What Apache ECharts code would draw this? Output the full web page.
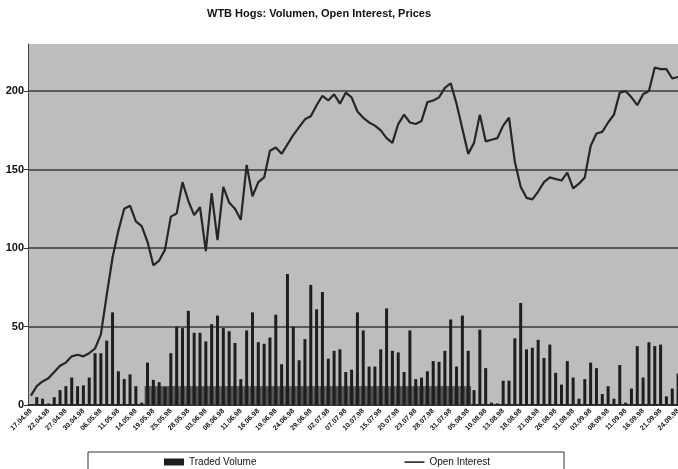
<!DOCTYPE html>
<html>
<head>
<meta charset="utf-8">
<script src="https://cdn.jsdelivr.net/npm/echarts@6/dist/echarts.min.js"></script>
<style>
  html, body { margin: 0; padding: 0; background: #fff; }
  #chart { width: 678px; height: 469px; }
</style>
</head>
<body>
<div id="chart"></div>
<script>
// trading days, every 3rd one is labelled
const dates = [
  '17.04.98','20.04.98','21.04.98','22.04.98','23.04.98','24.04.98','27.04.98','28.04.98','29.04.98','30.04.98',
  '04.05.98','05.05.98','06.05.98','07.05.98','08.05.98','11.05.98','12.05.98','13.05.98','14.05.98','15.05.98',
  '18.05.98','19.05.98','20.05.98','22.05.98','25.05.98','26.05.98','27.05.98','28.05.98','29.05.98','02.06.98',
  '03.06.98','04.06.98','05.06.98','08.06.98','09.06.98','10.06.98','11.06.98','12.06.98','15.06.98','16.06.98',
  '17.06.98','18.06.98','19.06.98','22.06.98','23.06.98','24.06.98','25.06.98','26.06.98','29.06.98','30.06.98',
  '01.07.98','02.07.98','03.07.98','06.07.98','07.07.98','08.07.98','09.07.98','10.07.98','13.07.98','14.07.98',
  '15.07.98','16.07.98','17.07.98','20.07.98','21.07.98','22.07.98','23.07.98','24.07.98','27.07.98','28.07.98',
  '29.07.98','30.07.98','31.07.98','03.08.98','04.08.98','05.08.98','06.08.98','07.08.98','10.08.98','11.08.98',
  '12.08.98','13.08.98','14.08.98','17.08.98','18.08.98','19.08.98','20.08.98','21.08.98','24.08.98','25.08.98',
  '26.08.98','27.08.98','28.08.98','31.08.98','01.09.98','02.09.98','03.09.98','04.09.98','07.09.98','08.09.98',
  '09.09.98','10.09.98','11.09.98','14.09.98','15.09.98','16.09.98','17.09.98','18.09.98','21.09.98','22.09.98',
  '23.09.98','24.09.98'
]

const tradedVolume = [
  0, 5, 4, 1, 5, 9.5, 12, 17.5, 12, 12.5,
  17.5, 33, 33, 41, 59, 21.5, 16.5, 19.5, 12, 1.5,
  27, 16, 14.5, 11.5, 33, 50, 49, 60, 46, 46,
  40.5, 51.5, 57, 49, 47, 39.5, 16.5, 47.5, 59, 40,
  39, 43, 57.5, 26, 83.5, 50, 28.5, 42, 76.5, 61,
  72, 29.5, 34.5, 35.5, 21, 22.5, 59, 47.5, 24.5, 24.5,
  35.5, 61.5, 34.5, 33.5, 21, 47.5, 16.5, 17.5, 21.5, 28,
  27.5, 34.5, 54.5, 24.5, 57, 34.5, 9.5, 48, 23.5, 1.5,
  1, 15.5, 15.5, 42.5, 65, 35.5, 36.5, 41.5, 30, 38.5,
  20.5, 13, 28, 17.5, 4, 16.5, 27, 23.5, 7, 12,
  4, 25.5, 1.5, 10.5, 37.5, 17.5, 40, 37.5, 38.5, 5.5,
  10.5, 20
]

const openInterest = [
  6, 12, 15, 17, 21, 25, 27, 31, 32, 31,
  33, 36, 45, 70, 94, 111, 125, 127, 117, 114,
  104, 89, 92, 99, 120, 122, 142, 130, 121, 126,
  98, 135, 105, 139, 129, 125, 118, 153, 133, 142,
  145, 162, 164, 160, 166, 172, 177, 182, 184, 191,
  197, 194, 198, 192, 199, 196, 187, 183, 180, 178,
  175, 170, 167, 179, 185, 180, 179, 181, 193, 194,
  196, 202, 205, 192, 176, 160, 167, 185, 168, 169,
  170, 178, 183, 155, 139, 132, 131, 136, 142, 145,
  144, 143, 148, 138, 141, 145, 165, 173, 174, 180,
  185, 199, 200, 196, 191, 198, 200, 215, 214, 214,
  208, 209
]

// dark hatched strip at the foot of the bars (20.05 - 06.08)
const footBand = dates.map((d, i) => (i >= 20 && i <= 75 ? 12 : null))

const yTicks = [0, 50, 100, 150, 200]

const FONT = '"Liberation Sans", Arial, sans-serif'
const chart = echarts.init(document.getElementById('chart'))

chart.setOption({
  animation: false,
  backgroundColor: '#fff',
  textStyle: { fontFamily: FONT },
  title: {
    text: 'WTB Hogs: Volumen, Open Interest, Prices',
    left: 207, top: 8, padding: 0,
    textStyle: { fontSize: 11, fontWeight: 'bold', color: '#111', fontFamily: FONT }
  },
  legend: {
    top: 452, left: 88,
    padding: [5, 74, 10, 76],
    itemGap: 148,
    itemWidth: 20, itemHeight: 7,
    borderColor: '#333', borderWidth: 1,
    textStyle: { fontSize: 10, color: '#111', fontFamily: FONT },
    data: [
      { name: 'Traded Volume', icon: 'rect' },
      // thin bar drawn inside an invisible 20x7 box
      { name: 'Open Interest', icon: 'path://M0,0 M20,7 M0,2.8 L20,2.8 L20,4.4 L0,4.4 Z' }
    ]
  },
  grid: {
    left: 28, right: -3, top: 44, bottom: 64,
    show: true, backgroundColor: '#bdbdbd', borderWidth: 0,
    containLabel: false, outerBoundsMode: 'none'
  },
  xAxis: [{
    type: 'category',
    data: dates,
    boundaryGap: true,
    axisLine: { lineStyle: { color: '#222', width: 1.5 } },
    axisTick: { interval: 0, length: 3, lineStyle: { color: '#333' } },
    axisLabel: {
      interval: 2, rotate: 45, margin: 5,
      fontSize: 7, fontWeight: 'bold', color: '#111', fontFamily: FONT
    },
    splitLine: { show: false }
  }, {
    type: 'category', data: dates, boundaryGap: true, show: false
  }],
  yAxis: {
    type: 'value', min: 0, max: 230, interval: 50,
    axisLine: { show: true, lineStyle: { color: '#444', width: 1 } },
    axisTick: { show: true, length: 4, lineStyle: { color: '#333' } },
    axisLabel: {
      showMaxLabel: false, margin: 4,
      fontSize: 11, fontWeight: 'bold', color: '#111', fontFamily: FONT,
      formatter: v => (yTicks.includes(v) ? String(v) : '')
    },
    splitLine: { show: true, showMaxLine: false, lineStyle: { color: '#3a3a3a', width: 1.5 } }
  },
  series: [
    {
      name: 'band',
      type: 'bar',
      xAxisIndex: 1,
      data: footBand,
      barWidth: '100%',
      z: 1,
      silent: true,
      itemStyle: { color: '#4e4e4e' }
    },
    {
      name: 'Traded Volume',
      type: 'bar',
      data: tradedVolume,
      barWidth: 3,
      z: 2,
      itemStyle: { color: '#1e1e1e' }
    },
    {
      name: 'Open Interest',
      type: 'line',
      data: openInterest,
      symbol: 'none',
      z: 3,
      lineStyle: { color: '#262626', width: 2.2 },
      itemStyle: { color: '#262626' }
    }
  ]
})
</script>
</body>
</html>
